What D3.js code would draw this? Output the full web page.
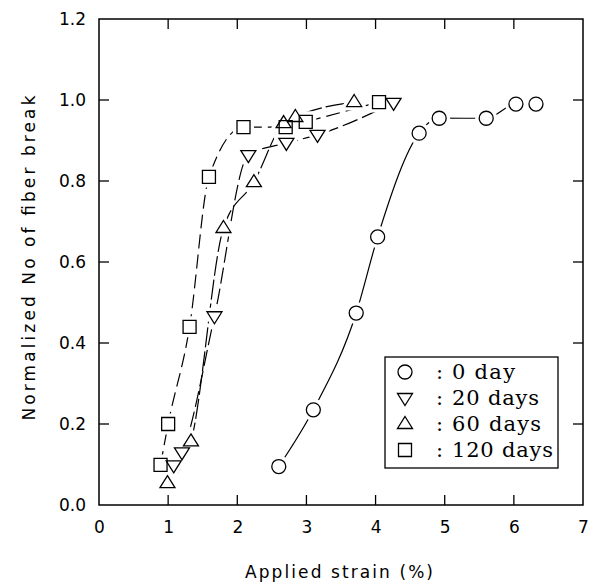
<!DOCTYPE html>
<html><head><meta charset="utf-8">
<script src="https://cdn.jsdelivr.net/npm/d3@7"></script>
<style>body{margin:0;background:#fff}svg{display:block}</style>
</head><body>
<svg id="c" width="598" height="588"></svg>
<script>
const xTicks = [0,1,2,3,4,5,6,7];
const yTicks = [0.0,0.2,0.4,0.6,0.8,1.0,1.2];
const seriesNames = ["0 day","20 days","60 days","120 days"];
const x0day   = [2.6,3.1,3.72,4.03,4.63,4.92,5.6,6.03,6.32];
const y0day   = [0.095,0.235,0.474,0.662,0.918,0.955,0.955,0.99,0.99];
const x20days = [1.08,1.2,1.67,2.16,2.71,3.16,4.26];
const y20days = [0.098,0.13,0.466,0.864,0.894,0.914,0.993];
const x60days = [0.99,1.33,1.8,2.24,2.67,2.84,3.69];
const y60days = [0.054,0.157,0.684,0.797,0.943,0.958,0.995];
const x120days= [0.89,1.0,1.31,1.59,2.09,2.7,2.99,4.05];
const y120days= [0.099,0.2,0.44,0.81,0.933,0.933,0.946,0.995];

const L=99,R=583,T=19,B=505;
const SANS="DejaVu Sans, Verdana, sans-serif";
const SERIF="DejaVu Serif, Liberation Serif, serif";
const svg=d3.select("#c");
const x=d3.scaleLinear().domain([0,7]).range([L,R]);
const y=d3.scaleLinear().domain([0,1.2]).range([B,T]);

const series=[
 {name:seriesNames[0],xs:x0day,ys:y0day,sym:"circle",dash:null},
 {name:seriesNames[1],xs:x20days,ys:y20days,sym:"down",dash:"16,5"},
 {name:seriesNames[2],xs:x60days,ys:y60days,sym:"up",dash:"20,4"},
 {name:seriesNames[3],xs:x120days,ys:y120days,sym:"square",dash:"14,6"}
];

function symPath(s,cx,cy){
  if(s==="circle"){const r=7;return `M${cx-r},${cy}a${r},${r} 0 1,0 ${2*r},0a${r},${r} 0 1,0 ${-2*r},0Z`;}
  if(s==="square"){const h=6.5;return `M${cx-h},${cy-h}H${cx+h}V${cy+h}H${cx-h}Z`;}
  if(s==="up"){const h=7.5;return `M${cx},${cy-h}L${cx+h},${cy+h*0.6}L${cx-h},${cy+h*0.6}Z`;}
  if(s==="down"){const h=7.5;return `M${cx},${cy+h}L${cx+h},${cy-h*0.6}L${cx-h},${cy-h*0.6}Z`;}
}

const g=svg.append("g");
g.append("rect").attr("x",L).attr("y",T).attr("width",R-L).attr("height",B-T)
 .attr("fill","none").attr("stroke","#000").attr("stroke-width",1.5);

const axB=d3.axisBottom(x).tickValues(xTicks).tickSize(0).tickPadding(16).tickFormat(d3.format("d"));
const axL=d3.axisLeft(y).tickValues(yTicks).tickSize(0).tickPadding(13).tickFormat(d3.format(".1f"));
const gb=svg.append("g").attr("transform",`translate(0,${B})`).call(axB);
const gl=svg.append("g").attr("transform",`translate(${L},0)`).call(axL);
[gb,gl].forEach(a=>{a.select(".domain").remove();a.selectAll("text").attr("font-family",SANS).attr("font-size",17).attr("fill","#000");});

const tl=10;
const innerX=xTicks.filter(d=>d>0&&d<7), innerY=yTicks.filter(d=>d>0&&d<1.2);
innerX.forEach(d=>{
  g.append("line").attr("x1",x(d)).attr("x2",x(d)).attr("y1",B).attr("y2",B-tl).attr("stroke","#000").attr("stroke-width",1.3);
  g.append("line").attr("x1",x(d)).attr("x2",x(d)).attr("y1",T).attr("y2",T+tl).attr("stroke","#000").attr("stroke-width",1.3);
});
innerY.forEach(d=>{
  g.append("line").attr("x1",L).attr("x2",L+tl).attr("y1",y(d)).attr("y2",y(d)).attr("stroke","#000").attr("stroke-width",1.3);
  g.append("line").attr("x1",R).attr("x2",R-tl).attr("y1",y(d)).attr("y2",y(d)).attr("stroke","#000").attr("stroke-width",1.3);
});

svg.append("text").attr("x",339).attr("y",578).attr("text-anchor","middle")
 .attr("font-family",SANS).attr("font-size",17).attr("textLength",188).attr("lengthAdjust","spacing").text("Applied strain (%)");
svg.append("text").attr("transform",`translate(35,258) rotate(-90)`).attr("text-anchor","middle")
 .attr("font-family",SANS).attr("font-size",17).attr("textLength",325).attr("lengthAdjust","spacing").text("Normalized No of fiber break");

const line=d3.line().x(d=>x(d[0])).y(d=>y(d[1])).curve(d3.curveMonotoneX);
series.forEach(s=>{
  const pts=s.xs.map((v,i)=>[v,s.ys[i]]);
  svg.append("path").attr("d",line(pts)).attr("fill","none").attr("stroke","#000")
   .attr("stroke-width",1.2).attr("stroke-dasharray",s.dash);
});
series.forEach(s=>{
  s.xs.forEach((v,i)=>{
    svg.append("path").attr("d",symPath(s.sym,x(v),y(s.ys[i]))).attr("fill","#fff").attr("stroke","#fff").attr("stroke-width",8);
  });
});
series.forEach(s=>{
  s.xs.forEach((v,i)=>{
    svg.append("path").attr("d",symPath(s.sym,x(v),y(s.ys[i]))).attr("fill","none").attr("stroke","#000").attr("stroke-width",1.3);
  });
});

const lg=svg.append("g");
lg.append("rect").attr("x",385).attr("y",357).attr("width",173).attr("height",111)
 .attr("fill","#fff").attr("stroke","#000").attr("stroke-width",1.3);
const widths=[63,87,89,101];
series.forEach((s,i)=>{
  const cy=372+i*26;
  lg.append("path").attr("d",symPath(s.sym,405,cy)).attr("fill","none").attr("stroke","#000").attr("stroke-width",1.3);
  lg.append("text").attr("x",436).attr("y",cy+7).attr("font-family",SERIF).attr("font-size",21).text(":");
  lg.append("text").attr("x",452).attr("y",cy+7).attr("font-family",SERIF).attr("font-size",21)
    .attr("textLength",widths[i]).attr("lengthAdjust","spacing").text(s.name);
});
</script>
</body></html>
